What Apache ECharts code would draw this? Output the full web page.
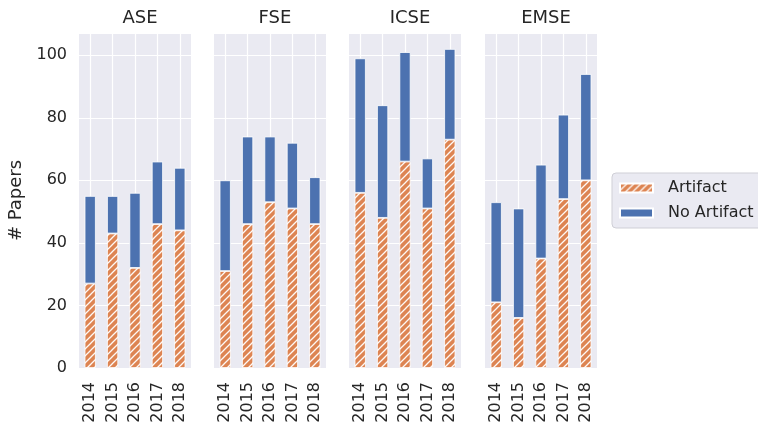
<!DOCTYPE html>
<html>
<head>
<meta charset="utf-8">
<script src="https://cdn.jsdelivr.net/npm/echarts@6/dist/echarts.min.js"></script>
<style>
  html, body { margin: 0; padding: 0; background: #fff; }
  #chart { width: 758px; height: 430px; }
</style>
</head>
<body>
<div id="chart"></div>
<script>
// 各会议每年论文数（有/无 artifact）
const years = ['2014', '2015', '2016', '2017', '2018'];
const venues = ['ASE', 'FSE', 'ICSE', 'EMSE'];

const aseArtifact = [27, 43, 32, 46, 44];
const aseNoArtifact = [28, 12, 24, 20, 20];
const fseArtifact = [31, 46, 53, 51, 46];
const fseNoArtifact = [29, 28, 21, 21, 15];
const icseArtifact = [56, 48, 66, 51, 73];
const icseNoArtifact = [43, 36, 35, 16, 29];
const emseArtifact = [21, 16, 35, 54, 60];
const emseNoArtifact = [32, 35, 30, 27, 34];

const yTicks = [0, 20, 40, 60, 80, 100];

const artifactByVenue = [aseArtifact, fseArtifact, icseArtifact, emseArtifact];
const noArtifactByVenue = [aseNoArtifact, fseNoArtifact, icseNoArtifact, emseNoArtifact];

const ORANGE = '#DD8452';
const BLUE = '#4C72B0';
const BG = '#EAEAF2';
const TEXT = '#262626';
const FONT = 'DejaVu Sans';

// 斜线填充
function makeHatch() {
    const c = document.createElement('canvas');
    c.width = 7;
    c.height = 7;
    const g = c.getContext('2d');
    g.fillStyle = ORANGE;
    g.fillRect(0, 0, 7, 7);
    g.strokeStyle = 'rgba(255,255,255,0.95)';
    g.lineWidth = 1.3;
    g.beginPath();
    g.moveTo(-1, 8); g.lineTo(8, -1);
    g.moveTo(-1, 1); g.lineTo(1, -1);
    g.moveTo(6, 8); g.lineTo(8, 6);
    g.stroke();
    return c;
}
const hatch = { image: makeHatch(), repeat: 'repeat' };

const panelLefts = [79, 214, 349, 485];
const panelWidth = 112;
const yMax = 107.1;

const grids = [], xAxes = [], yAxes = [], titles = [], series = [];

venues.forEach((venue, i) => {
    grids.push({
        left: panelLefts[i], width: panelWidth, top: 33, bottom: 62,
        show: true, backgroundColor: BG, borderWidth: 0
    });
    titles.push({
        text: venue, left: panelLefts[i] + panelWidth / 2, top: 4, textAlign: 'center',
        textStyle: { fontFamily: FONT, fontSize: 18, fontWeight: 'normal', color: TEXT }
    });
    xAxes.push({
        type: 'category', gridIndex: i, data: years,
        axisLine: { show: false }, axisTick: { show: false },
        axisLabel: { rotate: 90, fontFamily: FONT, fontSize: 16, color: TEXT, margin: 14 },
        splitLine: { show: true, alignWithLabel: true, lineStyle: { color: '#fff', width: 1.2 } }
    });
    yAxes.push({
        type: 'value', gridIndex: i, min: 0, max: yMax, interval: 20,
        axisLine: { show: false }, axisTick: { show: false },
        axisLabel: {
            show: i === 0, fontFamily: FONT, fontSize: 16, color: TEXT, margin: 12,
            showMaxLabel: false,
            formatter: v => (yTicks.includes(v) ? String(v) : '')
        },
        splitLine: { show: true, lineStyle: { color: '#fff', width: 1.2 } },
        name: i === 0 ? '# Papers' : '',
        nameLocation: 'middle', nameRotate: 90, nameGap: 54,
        nameTextStyle: { fontFamily: FONT, fontSize: 18, color: TEXT }
    });
    series.push({
        name: 'Artifact', type: 'bar', stack: 'v' + i,
        xAxisIndex: i, yAxisIndex: i, barWidth: '50%',
        data: artifactByVenue[i],
        itemStyle: { color: hatch, borderColor: '#fff', borderWidth: 0.8 }
    });
    series.push({
        name: 'No Artifact', type: 'bar', stack: 'v' + i,
        xAxisIndex: i, yAxisIndex: i, barWidth: '50%',
        data: noArtifactByVenue[i],
        itemStyle: { color: BLUE, borderColor: '#fff', borderWidth: 0.8 }
    });
});

const chart = echarts.init(document.getElementById('chart'), null, { renderer: 'canvas' });
chart.setOption({
    animation: false,
    backgroundColor: '#fff',
    title: titles,
    grid: grids,
    xAxis: xAxes,
    yAxis: yAxes,
    // 图例外框（右侧超出画布）
    graphic: [{
        type: 'rect', z: 0,
        shape: { x: 612, y: 173, width: 180, height: 55, r: 4 },
        style: { fill: BG, stroke: '#cfcfd6', lineWidth: 1 }
    }],
    legend: {
        z: 10,
        data: ['Artifact', 'No Artifact'],
        orient: 'vertical', left: 612, top: 173,
        icon: 'rect', itemWidth: 33, itemHeight: 9, itemGap: 9,
        padding: [7, 4, 8, 7],
        textStyle: { fontFamily: FONT, fontSize: 16, color: TEXT, padding: [0, 0, 0, 10] }
    },
    series: series
});
</script>
</body>
</html>
